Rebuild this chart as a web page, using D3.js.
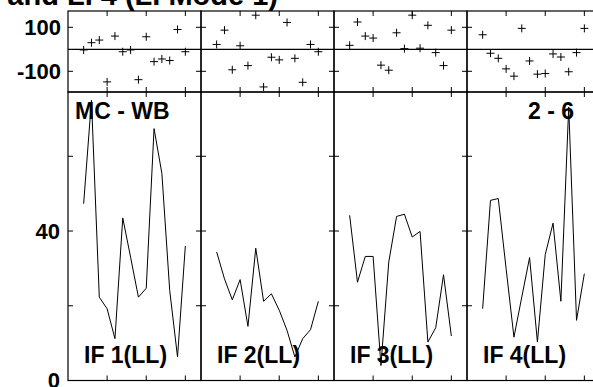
<!DOCTYPE html>
<html>
<head>
<meta charset="utf-8">
<script src="https://cdn.jsdelivr.net/npm/d3@7"></script>
<style>
html, body { margin: 0; padding: 0; background: #fff; }
svg { display: block; }
text { font-family: "Liberation Sans", Arial, sans-serif; font-weight: bold; fill: #000; }
</style>
</head>
<body>
<svg id="chart" width="593" height="387"></svg>
<script>
// ---- data ----
const xValues = [2, 3, 4, 5, 6, 7, 8, 9, 10, 11, 12, 13, 14, 15];
const panelLabels = ["IF 1(LL)", "IF 2(LL)", "IF 3(LL)", "IF 4(LL)"];
const scatterP1 = [-3, 30, 42, -148, 60, -11, -3, -138, 57, -56, -44, -51, 90, -11];
const scatterP2 = [22, 87, -93, 16, -74, 155, -171, -36, -48, 122, -41, -150, 22, -11];
const scatterP3 = [18, 124, 60, 51, -72, -95, 75, 3, 155, 5, 109, -15, -74, 87];
const scatterP4 = [66, -18, -41, -89, -122, 95, -53, -113, -110, -21, -35, -102, -15, 95];
const lineP1 = [47.3, 75, 22.3, 19.2, 11.2, 43.5, 33, 22.3, 24.7, 67.4, 55.4, 24.1, 6.3, 36];
const lineP2 = [34.4, 27.2, 21.6, 27, 14.5, 35.4, 21.2, 23.2, 18.8, 13.4, 6.3, 11.2, 13.6, 21.2];
const lineP3 = [44.2, 26.3, 33.2, 33.2, 4, 31.7, 43.9, 44.5, 38.4, 39.9, 10.3, 14.1, 28.3, 11.9];
const lineP4 = [19.2, 48.2, 48.7, 29.9, 11.6, 22.3, 32.9, 10.3, 33.7, 42.1, 21.2, 73.2, 16.1, 28.6];
const scatterTicks = [100, -100];
const scatterTickLabels = ["100", "-100"];
const lineTicks = [0, 20, 40, 60];
const lineTickLabels = ["0", "", "40", ""];
const xTicks = [5, 10, 15];
const titleText = "LI 3 and LI 4 (LI Mode 1)";
const leftLabel = "MC - WB";
const rightLabel = "2 - 6";

const scatterSeries = [scatterP1, scatterP2, scatterP3, scatterP4];
const lineSeries = [lineP1, lineP2, lineP3, lineP4];

// ---- layout ----
const svg = d3.select("#chart");
const left = 68, panelW = 133;
const sTop = 11, sBot = 92, lTop = 92, lBot = 380.5;
const tick = 5;

const yS = d3.scaleLinear().domain([-194, 174]).range([sBot, sTop]);
const yL = d3.scaleLinear().domain([0, 77.2]).range([lBot, lTop]);

// title (mostly cut off at the top edge, as in the reference)
svg.append("text").attr("x", 278).attr("y", 5).attr("text-anchor", "end")
  .attr("font-size", 29).text(titleText);

const defs = svg.append("defs");

for (let p = 0; p < 4; p++) {
  const x0 = left + p * panelW;
  const xS = d3.scaleLinear().domain([0, 17]).range([x0, x0 + panelW]);
  const g = svg.append("g");

  defs.append("clipPath").attr("id", "clipS" + p).append("rect")
    .attr("x", x0).attr("y", sTop).attr("width", panelW).attr("height", sBot - sTop);
  defs.append("clipPath").attr("id", "clipL" + p).append("rect")
    .attr("x", x0).attr("y", lTop).attr("width", panelW).attr("height", lBot - lTop);

  [[sTop, sBot], [lTop, lBot]].forEach(([t, b]) => {
    g.append("rect").attr("x", x0).attr("y", t).attr("width", panelW).attr("height", b - t)
      .attr("fill", "none").attr("stroke", "#000").attr("stroke-width", 1.2);
  });

  g.append("line").attr("x1", x0).attr("x2", x0 + panelW)
    .attr("y1", yS(0)).attr("y2", yS(0)).attr("stroke", "#000").attr("stroke-width", 1.2);

  xTicks.forEach(v => {
    const xx = xS(v);
    [[sTop, 1], [sBot, -1], [lTop, 1], [lBot, -1]].forEach(([yy, dir]) => {
      g.append("line").attr("x1", xx).attr("x2", xx).attr("y1", yy).attr("y2", yy + dir * tick)
        .attr("stroke", "#000").attr("stroke-width", 1);
    });
  });

  scatterTicks.forEach(v => {
    const yy = yS(v);
    g.append("line").attr("x1", x0).attr("x2", x0 + tick).attr("y1", yy).attr("y2", yy).attr("stroke", "#000");
    g.append("line").attr("x1", x0 + panelW - tick).attr("x2", x0 + panelW).attr("y1", yy).attr("y2", yy).attr("stroke", "#000");
  });
  lineTicks.slice(1).forEach(v => {
    const yy = yL(v);
    g.append("line").attr("x1", x0).attr("x2", x0 + tick).attr("y1", yy).attr("y2", yy).attr("stroke", "#000");
    g.append("line").attr("x1", x0 + panelW - tick).attr("x2", x0 + panelW).attr("y1", yy).attr("y2", yy).attr("stroke", "#000");
  });

  const cs = 4;
  const sg = g.append("g").attr("clip-path", "url(#clipS" + p + ")");
  scatterSeries[p].forEach((v, i) => {
    const cx = xS(xValues[i]), cy = yS(v);
    sg.append("path").attr("d", `M${cx - cs},${cy}H${cx + cs}M${cx},${cy - cs}V${cy + cs}`)
      .attr("stroke", "#000").attr("stroke-width", 1).attr("fill", "none");
  });

  const line = d3.line().x((d, i) => xS(xValues[i])).y(d => yL(d));
  g.append("path").attr("clip-path", "url(#clipL" + p + ")")
    .attr("d", line(lineSeries[p])).attr("fill", "none").attr("stroke", "#000").attr("stroke-width", 1);

  svg.append("text").attr("x", x0 + 16).attr("y", 363).attr("font-size", 23).text(panelLabels[p]);
}

scatterTicks.forEach((v, i) => {
  svg.append("text").attr("x", 61).attr("y", yS(v)).attr("dy", "0.36em")
    .attr("text-anchor", "end").attr("font-size", 22).text(scatterTickLabels[i]);
});
lineTicks.forEach((v, i) => {
  if (!lineTickLabels[i]) return;
  svg.append("text").attr("x", 60).attr("y", yL(v)).attr("dy", "0.36em")
    .attr("text-anchor", "end").attr("font-size", 22).text(lineTickLabels[i]);
});

svg.append("text").attr("x", 75).attr("y", 119).attr("font-size", 23).text(leftLabel);
svg.append("text").attr("x", 574).attr("y", 119).attr("text-anchor", "end").attr("font-size", 23).text(rightLabel);
</script>
</body>
</html>
